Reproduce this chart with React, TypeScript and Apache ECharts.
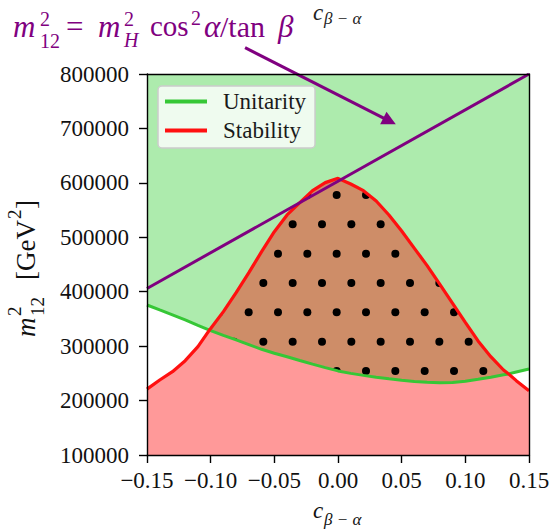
import React, { useEffect, useRef } from 'react';
import * as echarts from 'echarts';

// c_{beta-alpha} sample positions (extra points at the two curve crossings)
const cBA = [
  -0.15, -0.14, -0.13, -0.12, -0.11, -0.101, -0.1, -0.09, -0.08, -0.07, -0.06, -0.05, -0.04,
  -0.03, -0.02, -0.01, 0.0, 0.01, 0.02, 0.03, 0.04, 0.05, 0.06, 0.07, 0.08, 0.09, 0.1, 0.11,
  0.12, 0.13, 0.134, 0.14, 0.15,
];
// Unitarity bound on m12^2 (allowed above)
const unitarity = [
  375600, 366500, 357500, 348400, 338200, 329500, 328500, 319900, 311400, 302800, 294200, 287000,
  280500, 273700, 267000, 260500, 254500, 250000, 246300, 243000, 240000, 237300, 235000, 233500,
  232800, 233300, 235500, 239000, 243000, 247500, 249000, 252500, 258000,
];
// Stability bound on m12^2 (allowed below)
const stability = [
  221000, 237800, 253100, 273300, 299100, 329500, 332500, 363400, 398300, 435000, 473600, 510300,
  541000, 563600, 585700, 600400, 608300, 597900, 585700, 566700, 541000, 511600, 479700, 447900,
  413600, 378700, 343800, 309500, 280700, 256200, 249000, 236600, 218200,
];
// m12^2 = mH^2 cos^2(alpha)/tan(beta) line
const relX = [-0.15, 0.15];
const relY = [406000, 800000];
// annotation arrow (data coordinates)
const arrowFrom = [-0.073, 848300];
const arrowTo = [0.0405, 713500];

const xMin = -0.15;
const xMax = 0.15;
const xStep = 0.05;
const yMin = 100000;
const yMax = 800000;
const yStep = 100000;

const PURPLE = '#800080';
const FONT = "'Liberation Serif', 'Times New Roman', 'DejaVu Serif', serif";

function fmtX(v: number) {
  if (Math.abs(v) < 1e-9) return '0.00';
  return (v < 0 ? '\u2212' : '') + Math.abs(v).toFixed(2);
}

function txt(x: number, y: number, text: string, size: number, opts: any = {}) {
  return {
    type: 'text',
    x,
    y,
    style: {
      text,
      fontSize: size,
      fontFamily: FONT,
      fontStyle: opts.italic ? 'italic' : 'normal',
      fill: opts.color || PURPLE,
      align: 'left',
      verticalAlign: 'middle',
    },
  };
}

export default function App() {
  const ref = useRef<HTMLDivElement>(null);
  useEffect(() => {
    const el = ref.current!;
    const chart = echarts.init(el, null, { renderer: 'svg' });

    // dot hatch tile
    const tile = document.createElement('canvas');
    tile.width = 88;
    tile.height = 176;
    const ctx = tile.getContext('2d')!;
    ctx.fillStyle = '#000';
    const step = 88 / 3;
    for (let r = 0; r < 6; r++) {
      const cy = 19 + r * step;
      const ox = r % 2 === 0 ? 14 : 14 + step / 2;
      for (let c = 0; c < 3; c++) {
        const cx = ox + c * step;
        for (const dx of [-88, 0, 88]) {
          for (const dy of [-176, 0, 176]) {
            ctx.beginPath();
            ctx.arc(cx + dx, cy + dy, 4, 0, Math.PI * 2);
            ctx.fill();
          }
        }
      }
    }
    const pattern = { image: tile.toDataURL(), repeat: 'repeat', imageWidth: 88, imageHeight: 176 };

    const pairs = (ys: number[]) => cBA.map((x, i) => [x, ys[i]]);
    const lowerOfBoth = cBA.map((x, i) => [x, Math.min(stability[i], unitarity[i])]);

    const axisLineStyle = { color: '#000', width: 1.4 };

    chart.setOption({
      animation: false,
      textStyle: { fontFamily: FONT },
      grid: { left: 147, right: 24, top: 74, bottom: 75, containLabel: false },
      xAxis: [
        {
          type: 'value',
          min: xMin,
          max: xMax,
          interval: xStep,
          z: 10,
          axisLine: { show: true, onZero: false, lineStyle: axisLineStyle },
          axisTick: { show: true, length: 8, lineStyle: axisLineStyle },
          splitLine: { show: false },
          axisLabel: { margin: 14, fontSize: 23, color: '#111', fontFamily: FONT, formatter: fmtX },
        },
        {
          type: 'value',
          position: 'top',
          min: xMin,
          max: xMax,
          z: 10,
          axisLine: { show: true, onZero: false, lineStyle: axisLineStyle },
          axisTick: { show: false },
          axisLabel: { show: false },
          splitLine: { show: false },
        },
      ],
      yAxis: [
        {
          type: 'value',
          min: yMin,
          max: yMax,
          interval: yStep,
          z: 10,
          axisLine: { show: true, onZero: false, lineStyle: axisLineStyle },
          axisTick: { show: true, length: 8, lineStyle: axisLineStyle },
          splitLine: { show: false },
          axisLabel: {
            margin: 18,
            fontSize: 23,
            color: '#111',
            fontFamily: FONT,
            formatter: (v: number) => String(Math.round(v)),
          },
        },
        {
          type: 'value',
          position: 'right',
          min: yMin,
          max: yMax,
          z: 10,
          axisLine: { show: true, onZero: false, lineStyle: axisLineStyle },
          axisTick: { show: false },
          axisLabel: { show: false },
          splitLine: { show: false },
        },
      ],
      legend: {
        data: ['Unitarity', 'Stability'],
        orient: 'vertical',
        left: 158,
        top: 86,
        icon: 'rect',
        itemWidth: 42,
        itemHeight: 4,
        itemGap: 6,
        padding: [4, 9, 6, 7],
        backgroundColor: 'rgba(255,255,255,0.8)',
        borderColor: '#cccccc',
        borderWidth: 1.5,
        borderRadius: 4,
        selectedMode: false,
        z: 20,
        textStyle: { fontSize: 23, color: '#1a1a1a', fontFamily: FONT, padding: [0, 0, 0, 11] },
      },
      series: [
        {
          type: 'line',
          name: 'unitFill',
          data: pairs(unitarity),
          showSymbol: false,
          symbol: 'none',
          lineStyle: { width: 0, opacity: 0 },
          areaStyle: { origin: 'end', color: 'rgba(50,205,50,0.4)', opacity: 1 },
          z: 1,
          silent: true,
        },
        {
          type: 'line',
          name: 'stabFill',
          data: pairs(stability),
          showSymbol: false,
          symbol: 'none',
          lineStyle: { width: 0, opacity: 0 },
          areaStyle: { origin: 'start', color: 'rgba(255,0,0,0.4)', opacity: 1 },
          z: 1,
          silent: true,
        },
        {
          type: 'line',
          name: 'hatch',
          data: pairs(stability),
          showSymbol: false,
          symbol: 'none',
          lineStyle: { width: 0, opacity: 0 },
          areaStyle: { origin: 'start', color: pattern, opacity: 1 },
          z: 1,
          silent: true,
        },
        {
          // region below both bounds: only the stability fill, no hatch
          type: 'line',
          name: 'belowBoth',
          data: lowerOfBoth,
          showSymbol: false,
          symbol: 'none',
          lineStyle: { width: 0, opacity: 0 },
          areaStyle: { origin: 'start', color: '#ff9999', opacity: 1 },
          z: 1,
          silent: true,
        },
        {
          type: 'line',
          name: 'Unitarity',
          color: '#36c736',
          data: pairs(unitarity),
          showSymbol: false,
          symbol: 'none',
          lineStyle: { width: 3, color: '#36c736' },
          z: 3,
        },
        {
          type: 'line',
          name: 'Stability',
          color: '#ff1010',
          data: pairs(stability),
          showSymbol: false,
          symbol: 'none',
          lineStyle: { width: 3.2, color: '#ff1010' },
          z: 4,
        },
        {
          type: 'line',
          name: 'relation',
          data: relX.map((x, i) => [x, relY[i]]),
          showSymbol: false,
          symbol: 'none',
          lineStyle: { width: 3, color: PURPLE },
          z: 5,
        },
        {
          type: 'lines',
          coordinateSystem: 'cartesian2d',
          clip: false,
          data: [{ coords: [arrowFrom, arrowTo] }],
          symbol: ['none', 'triangle'],
          symbolSize: 14,
          lineStyle: { color: PURPLE, width: 3, opacity: 1, curveness: 0 },
          z: 6,
        },
      ],
      graphic: [
        // title formula
        txt(13, 26, 'm', 31, { italic: true }),
        txt(40, 19, '2', 20),
        txt(40, 40.5, '12', 20),
        txt(66, 26, '=', 31),
        txt(98, 26, 'm', 31, { italic: true }),
        txt(124, 19, '2', 20),
        txt(124, 40, 'H', 20, { italic: true }),
        txt(150, 26, 'cos', 29),
        txt(191, 18, '2', 20),
        txt(204, 26, '\u03b1', 31, { italic: true }),
        txt(220, 26, '/tan', 30),
        txt(278, 26, '\u03b2', 31, { italic: true }),
        // stray top label
        txt(313, 12, 'c', 23, { italic: true, color: '#222' }),
        txt(324, 18, '\u03b2 \u2212 \u03b1', 17, { italic: true, color: '#222' }),
        // x axis name
        txt(313, 510, 'c', 23, { italic: true, color: '#111' }),
        txt(324, 519, '\u03b2 \u2212 \u03b1', 17, { italic: true, color: '#111' }),
        // y axis name (rotated)
        {
          type: 'group',
          x: 26,
          y: 337,
          rotation: Math.PI / 2,
          children: [
            txt(0, 0, 'm', 27, { italic: true, color: '#111' }),
            txt(21, -12, '2', 19, { color: '#111' }),
            txt(21, 11.5, '12', 19, { color: '#111' }),
            txt(57, 0, '[GeV', 27, { color: '#111' }),
            txt(118, -12, '2', 19, { color: '#111' }),
            txt(128, 0, ']', 27, { color: '#111' }),
          ],
        },
      ],
    });
    return () => chart.dispose();
  }, []);
  return (
    <div
      ref={ref}
      style={{ position: 'fixed', left: 0, top: 0, width: 553, height: 530, background: '#fff' }}
    />
  );
}
